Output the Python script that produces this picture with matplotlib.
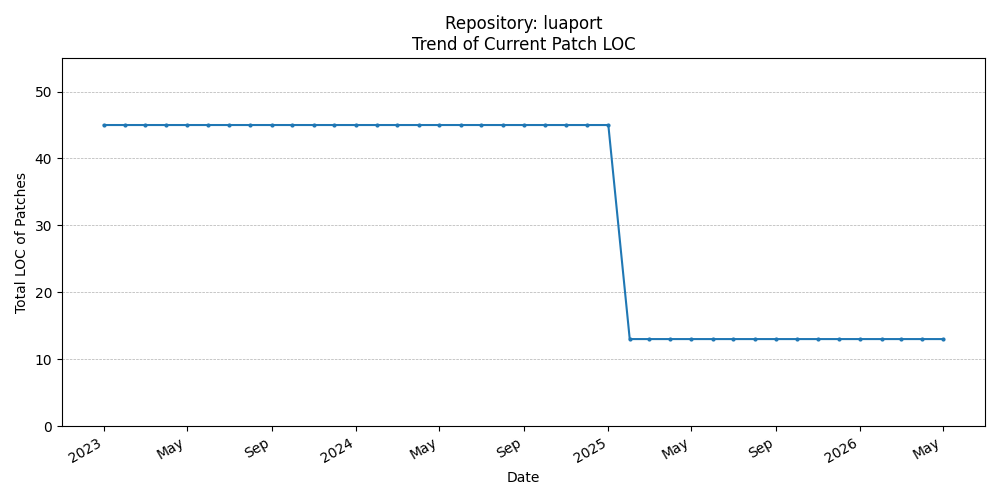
import matplotlib
matplotlib.use('Agg')
import matplotlib.pyplot as plt
import matplotlib.dates as mdates
import pandas as pd

dates = pd.date_range('2023-01-01', '2026-05-01', freq='MS')
loc = [45, 45, 45, 45, 45, 45, 45, 45, 45, 45, 45, 45,
       45, 45, 45, 45, 45, 45, 45, 45, 45, 45, 45, 45,
       45,
       13, 13, 13, 13, 13, 13, 13, 13, 13, 13, 13,
       13, 13, 13, 13, 13]

fig, ax = plt.subplots(figsize=(10, 5), dpi=100)
ax.plot(dates, loc, marker='o', markersize=2, color='#1f77b4')
ax.set_title('Repository: luaport\nTrend of Current Patch LOC')
ax.set_xlabel('Date')
ax.set_ylabel('Total LOC of Patches')
ax.set_ylim(0, 55)
ax.grid(axis='y', linestyle='--', linewidth=0.5)

locator = mdates.MonthLocator(bymonth=[1, 5, 9])
ax.xaxis.set_major_locator(locator)
ax.xaxis.set_major_formatter(mdates.ConciseDateFormatter(locator))
fig.autofmt_xdate()
fig.tight_layout()
fig.savefig('out.png')
